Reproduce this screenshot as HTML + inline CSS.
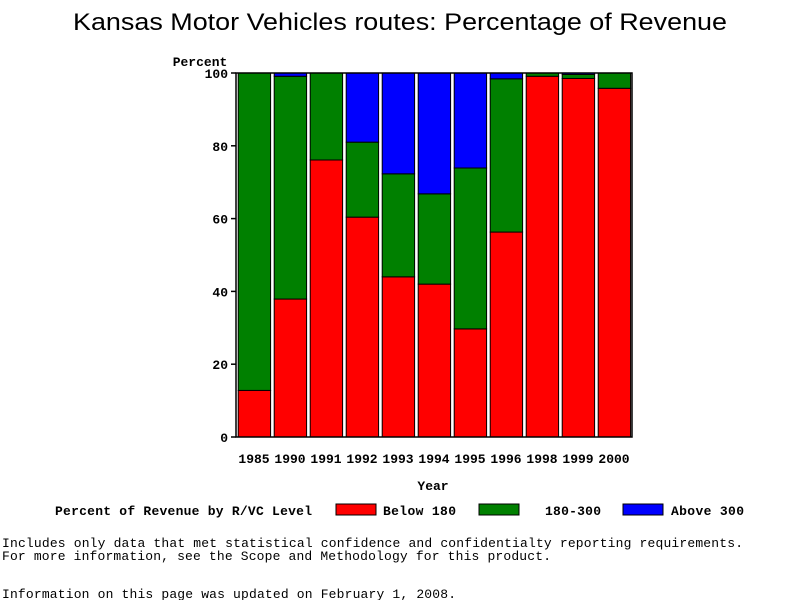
<!DOCTYPE html>
<html><head><meta charset="utf-8"><style>
body{margin:0;background:#fff;width:800px;height:600px;overflow:hidden}
text{font-family:"Liberation Mono","DejaVu Sans Mono",monospace;font-weight:bold;font-size:13px;fill:#000}
</style></head><body>
<svg id="chart" width="800" height="600" xmlns="http://www.w3.org/2000/svg">
<text x="73" y="30" textLength="654" lengthAdjust="spacingAndGlyphs" style="font-family:'Liberation Sans',sans-serif;font-weight:normal;font-size:24px">Kansas Motor Vehicles routes: Percentage of Revenue</text>
<g id="bars"></g>
<g id="axes"></g>
<text x="200" y="66" text-anchor="middle">Percent</text>
<text x="433" y="490" text-anchor="middle">Year</text>
<g>
<text x="55" y="515" textLength="257">Percent of Revenue by R/VC Level</text>
<rect x="336" y="504" width="40" height="11" fill="#ff0000" stroke="#000"/>
<text x="383" y="515" textLength="73">Below 180</text>
<rect x="479" y="504" width="40" height="11" fill="#008000" stroke="#000"/>
<text x="545" y="515" textLength="56">180-300</text>
<rect x="623" y="504" width="40" height="11" fill="#0000ff" stroke="#000"/>
<text x="671" y="515" textLength="73">Above 300</text>
</g>
<text x="2" y="547" textLength="741" style="font-weight:normal">Includes only data that met statistical confidence and confidentialty reporting requirements.</text>
<text x="2" y="560" textLength="549" style="font-weight:normal">For more information, see the Scope and Methodology for this product.</text>
<text x="2" y="598" textLength="454" style="font-weight:normal">Information on this page was updated on February 1, 2008.</text>
</svg>
<script>
const years=["1985","1990","1991","1992","1993","1994","1995","1996","1998","1999","2000"];
const below180=[12.8,37.9,76.1,60.4,44.0,42.0,29.7,56.3,99.1,98.5,95.8];
const mid180300=[87.2,61.2,23.9,20.6,28.3,24.8,44.2,42.1,0.9,1.1,4.2];
const above300=[0,0.9,0,19.0,27.7,33.2,26.1,1.6,0,0.4,0];
const yTicks=[0,20,40,60,80,100];
const NS="http://www.w3.org/2000/svg";
const L=236,R=632,T=73,B=437;
const band=(R-L)/years.length;
const y=v=>B-(v/100)*(B-T);
const x=i=>L+i*band;
function mk(tag,attrs,parent){const e=document.createElementNS(NS,tag);for(const k in attrs)e.setAttribute(k,attrs[k]);parent.appendChild(e);return e;}
const bars=document.getElementById('bars'),axes=document.getElementById('axes');
const series=[[below180,'#ff0000','below-180'],[mid180300,'#008000','180-300'],[above300,'#0000ff','above-300']];
years.forEach((yr,i)=>{
  let cum=0;
  series.forEach(([arr,col,nm])=>{
    const v=arr[i];
    if(v>0){
      const r=mk('rect',{x:x(i)+2.2,y:y(cum+v),width:band-3.6,height:y(cum)-y(cum+v),fill:col,stroke:'#000','stroke-width':1},bars);
      
      
    }
    cum+=v;
  });
  const t=mk('text',{x:x(i)+band/2,y:463,'text-anchor':'middle'},axes);
  t.textContent=yr;
  
  
});
const frame=mk('rect',{x:L,y:T,width:R-L,height:B-T,fill:'none',stroke:'#000','stroke-width':1.5},axes);


yTicks.forEach(v=>{
  const tk=mk('line',{x1:L-5,x2:L,y1:y(v),y2:y(v),stroke:'#000','stroke-width':1.5},axes);
  
  
  const t=mk('text',{x:L-8,y:y(v)+5,'text-anchor':'end'},axes);
  t.textContent=v;
  
  
});
</script>
</body></html>
